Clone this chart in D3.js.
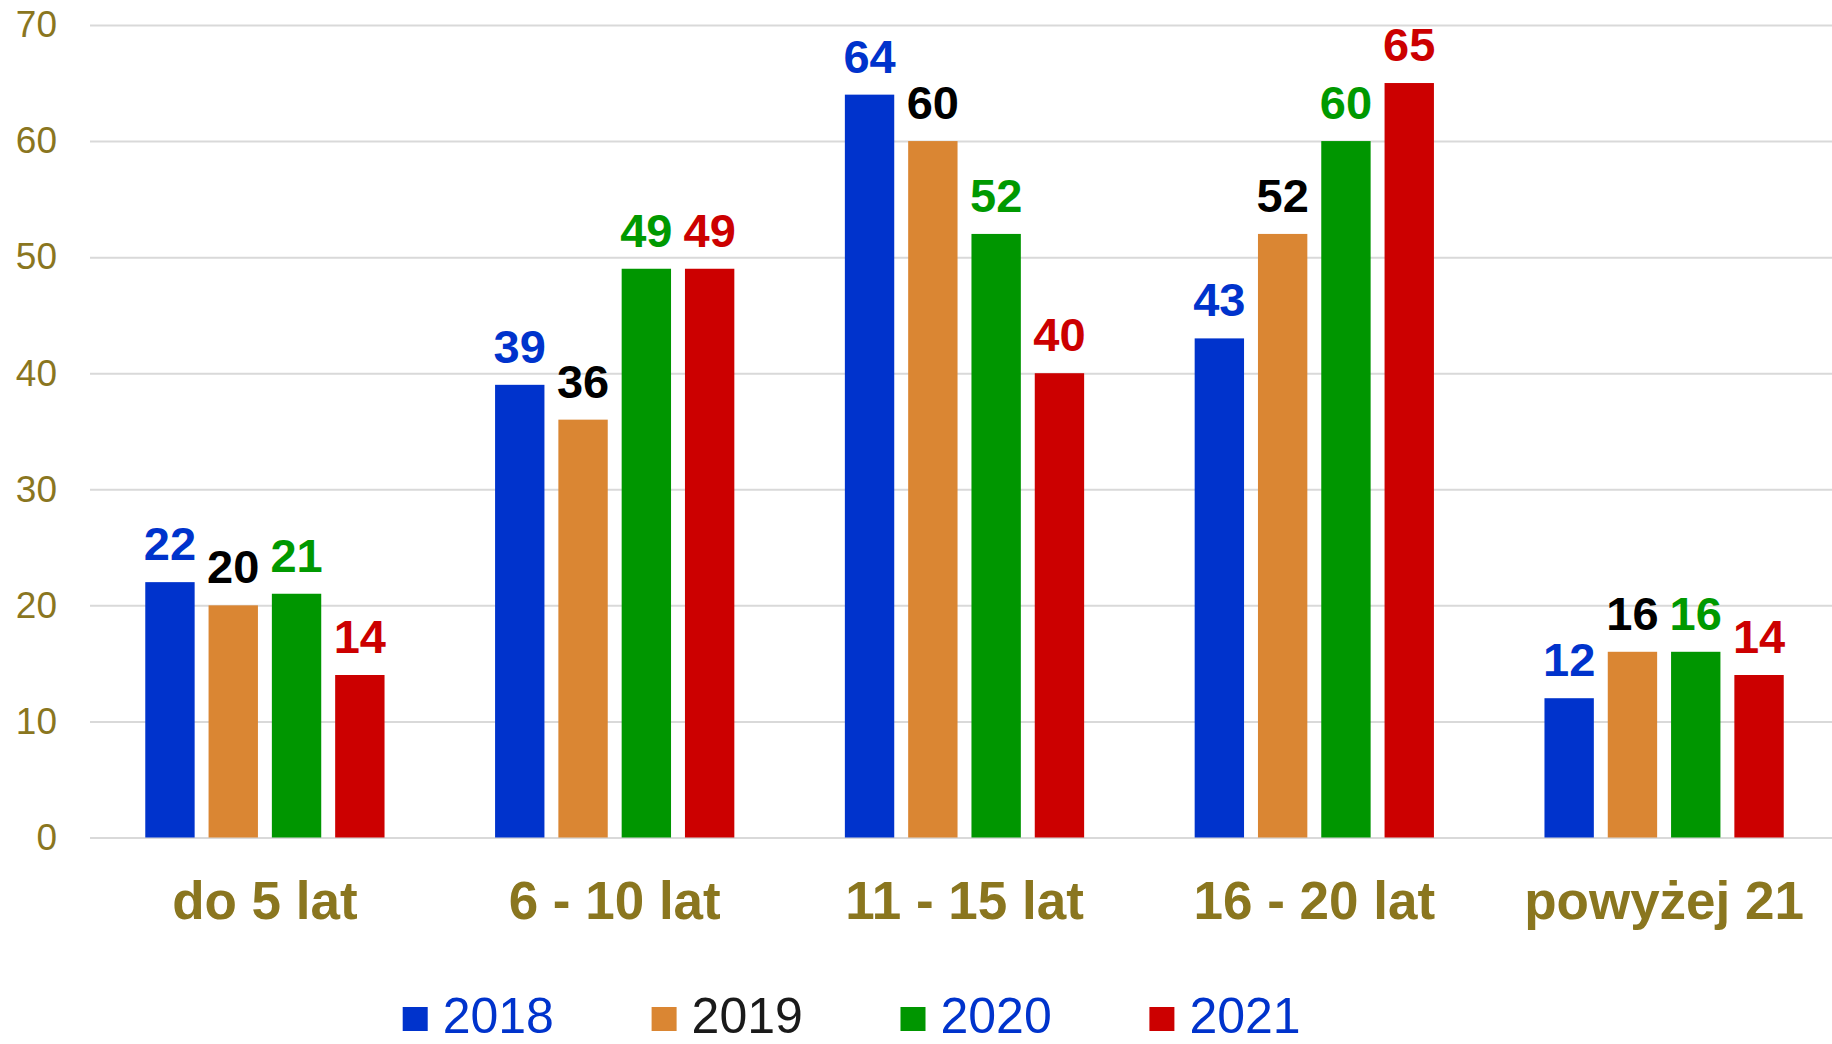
<!DOCTYPE html>
<html>
<head>
<meta charset="utf-8">
<script src="https://cdn.jsdelivr.net/npm/d3@7"></script>
<style>
  body { margin: 0; background: #fff; }
  svg { display: block; font-family: "Liberation Sans", Arial, sans-serif; }
</style>
</head>
<body>
<svg id="chart" width="1832" height="1044"></svg>
<script>
const categories = ['do 5 lat', '6 - 10 lat', '11 - 15 lat', '16 - 20 lat', 'powyżej 21']
const years = ['2018', '2019', '2020', '2021']
const v2018 = [22, 39, 64, 43, 12]
const v2019 = [20, 36, 60, 52, 16]
const v2020 = [21, 49, 52, 60, 16]
const v2021 = [14, 49, 40, 65, 14]
const yTicks = [0, 10, 20, 30, 40, 50, 60, 70]

const series = [v2018, v2019, v2020, v2021]
const barColor = ['#0033cc', '#da8633', '#009600', '#cc0000']
const labelColor = ['#0033cc', '#000000', '#009900', '#cc0000']
const legendText = ['#0033cc', '#1a1a1a', '#0033cc', '#0033cc']
const olive = '#8a761f'

const svg = d3.select('#chart')

const y = d3.scaleLinear().domain([0, 70]).range([837.5, 25])
const x0 = d3.scaleBand().domain(categories).range([90, 1839])
      .paddingInner(0.316).paddingOuter(0.158)
const x1 = d3.scaleBand().domain(d3.range(4)).range([0, x0.bandwidth()])
      .paddingInner(0.22)

// gridlines + y labels
const yAxis = svg.append('g')
  .attr('transform', 'translate(90,0)')
  .call(d3.axisLeft(y).tickValues(yTicks).tickSize(-1742).tickPadding(33))
yAxis.select('.domain').remove()
yAxis.selectAll('.tick line').attr('stroke', '#d9d9d9').attr('stroke-width', 2)
yAxis.selectAll('.tick text')
  .attr('fill', olive).attr('font-size', 37)
  .attr('font-family', '"Liberation Sans", Arial, sans-serif')

// bars
const groups = svg.append('g').selectAll('g')
  .data(categories)
  .join('g')
    .attr('transform', c => `translate(${x0(c)},0)`)

groups.selectAll('rect')
  .data((c, i) => series.map((s, k) => ({ k, v: s[i] })))
  .join('rect')
    .attr('x', d => x1(d.k))
    .attr('width', x1.bandwidth())
    .attr('y', d => y(d.v))
    .attr('height', d => y(0) - y(d.v))
    .attr('fill', d => barColor[d.k])

groups.selectAll('text')
  .data((c, i) => series.map((s, k) => ({ k, v: s[i] })))
  .join('text')
    .attr('x', d => x1(d.k) + x1.bandwidth() / 2)
    .attr('y', d => y(d.v) - 22)
    .attr('text-anchor', 'middle')
    .attr('font-size', 47)
    .attr('font-weight', 'bold')
    .attr('fill', d => labelColor[d.k])
    .text(d => d.v)

// category labels
svg.append('g').selectAll('text')
  .data(categories)
  .join('text')
    .attr('x', c => x0(c) + x0.bandwidth() / 2)
    .attr('y', 919)
    .attr('text-anchor', 'middle')
    .attr('font-size', 53)
    .attr('font-weight', 'bold')
    .attr('fill', olive)
    .text(c => c)

// legend (reference crops it at the bottom edge; kept just inside)
const lx = d3.scaleBand().domain(years).range([402.7, 1398.3])
const leg = svg.append('g').selectAll('g')
  .data(years)
  .join('g')
    .attr('transform', d => `translate(${lx(d)},0)`)
leg.append('rect')
  .attr('y', 1007).attr('width', 25).attr('height', 24)
  .attr('fill', (d, i) => barColor[i])
leg.append('text')
  .attr('x', 40).attr('y', 1033)
  .attr('font-size', 50)
  .attr('fill', (d, i) => legendText[i])
  .text(d => d)
</script>
</body>
</html>
